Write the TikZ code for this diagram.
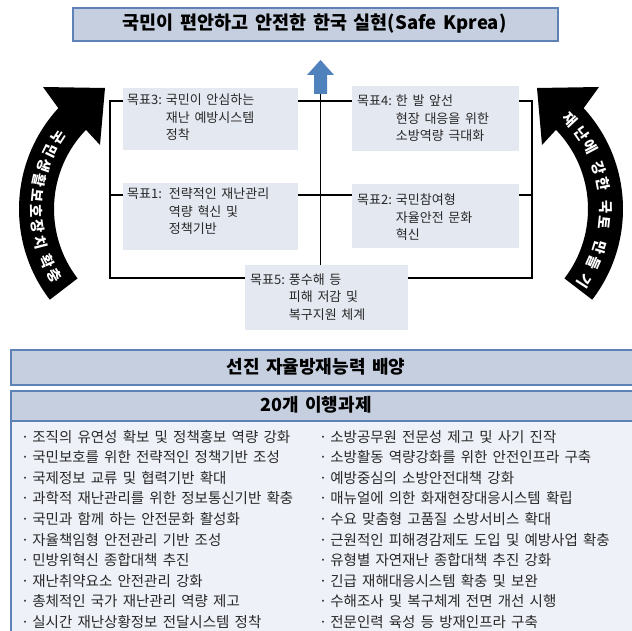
\documentclass[tikz,border=0pt]{standalone}
\usepackage{fontspec}
\setmainfont{Noto Sans CJK KR}[WordSpace=1.6]
\usetikzlibrary{calc}
\definecolor{tfill}{RGB}{198,207,224}
\definecolor{bborder}{RGB}{95,130,182}
\definecolor{ablue}{RGB}{79,129,189}
\definecolor{gfill}{RGB}{228,232,241}
\definecolor{bodyfill}{RGB}{238,241,247}
\definecolor{tgray}{RGB}{40,40,40}
\tikzset{
  goalbox/.style={fill=gfill, draw=none, inner sep=0, anchor=north west},
  goaltext/.style={inner sep=0, anchor=base west, text=tgray, font=\fontsize{13}{17.5}\selectfont},
  conn/.style={draw=black, line width=1.1pt},
  item/.style={inner sep=0, anchor=base west, text=tgray, font=\fontsize{14.5}{16}\selectfont},
  arctext/.style={text=white, inner sep=0, font=\bfseries\fontsize{14.5}{15}\selectfont},
  headtext/.style={text=black, inner sep=0, font=\bfseries\fontsize{18}{20}\selectfont},
  bandbox/.style={fill=tfill, draw=bborder, line width=2pt, inner sep=0, anchor=north west},
}
\begin{document}
\begin{tikzpicture}[x=1pt,y=1pt]
\useasboundingbox[fill=white] (0,0) rectangle (632,-631);

% title
\node[bandbox, line width=1.6pt, minimum width=485, minimum height=33] (title) at (72,-7) {};
\node[headtext, font=\bfseries\fontsize{18.5}{20}\selectfont] (titletext) at (314.5,-23.5) {국민이 편안하고 안전한 한국 실현(Safe Kprea)};

% up arrow
\fill[ablue] (314,-94) -- (327,-94) -- (327,-75) -- (334,-75) -- (320.5,-60) -- (307,-75) -- (314,-75) -- cycle;
\coordinate (arrowbase) at (320.5,-94);

% goal boxes
\node[goalbox, minimum width=175, minimum height=62] (g3) at (123,-88) {};
\node[goalbox, minimum width=175, minimum height=67] (g1) at (123,-183) {};
\node[goalbox, minimum width=167, minimum height=65] (g4) at (352,-86) {};
\node[goalbox, minimum width=167, minimum height=64] (g2) at (352,-184) {};
\node[goalbox, minimum width=163, minimum height=65] (g5) at (245,-265) {};

\node[goaltext] (t3) at (127,-105) {\begin{tabular}[t]{@{}l@{\hspace{4pt}}l@{}}목표3: & 국민이 안심하는\\ & 재난 예방시스템\\ & 정착\end{tabular}};
\node[goaltext] (t1) at (127,-199) {\begin{tabular}[t]{@{}l@{\hspace{7pt}}l@{}}목표1: & 전략적인 재난관리\\ & 역량 혁신 및\\ & 정책기반\end{tabular}};
\node[goaltext] (t4) at (357,-106) {\begin{tabular}[t]{@{}l@{\hspace{4pt}}l@{}}목표4: & 한 발 앞선\\ & 현장 대응을 위한\\ & 소방역량 극대화\end{tabular}};
\node[goaltext] (t2) at (357,-205) {\begin{tabular}[t]{@{}l@{\hspace{4pt}}l@{}}목표2: & 국민참여형\\ & 자율안전 문화\\ & 혁신\end{tabular}};
\node[goaltext] (t5) at (250,-284) {\begin{tabular}[t]{@{}l@{\hspace{4pt}}l@{}}목표5: & 풍수해 등\\ & 피해 저감 및\\ & 복구지원 체계\end{tabular}};

% connectors
\coordinate (L1) at (110,-101);
\coordinate (L2) at (110,-195);
\coordinate (L3) at (110,-278);
\coordinate (R1) at (532,-101);
\coordinate (R2) at (532,-195);
\coordinate (R3) at (532,-278);
\draw[conn] (g3.west |- L1) -- (L1) -- (L3) -- (g5.west |- L3);
\draw[conn] (L2) -- (g1.west |- L2);
\draw[conn] (g4.east |- R1) -- (R1) -- (R3) -- (g5.east |- R3);
\draw[conn] (R2) -- (g2.east |- R2);
\draw[conn] (g3.east |- L1) -- (g4.west |- L1);
\draw[conn] (g1.east |- L2) -- (g2.west |- L2);
\draw[conn] (arrowbase) -- (arrowbase |- g5.north);

% left curved arrow
\fill[black] (168,-209) ++(217.5:149) arc[start angle=217.5, end angle=137.4, radius=149]
  -- (43,-87) -- (105,-88) -- (100,-145) -- ($(168,-209)+(136:114)$)
  arc[start angle=136, end angle=217.5, radius=114] -- cycle;
\foreach \a/\c in {147/국,153.8/민,160.6/생,167.4/활,174.2/보,181/호,187.8/장,194.6/치,203.5/확,210.3/충}
  \node[arctext, rotate=\a+90] at ($(168,-209)+(\a:131.5)$) {\c};

% right curved arrow
\fill[black] (474,-209) ++(-37.5:149) arc[start angle=-37.5, end angle=42.6, radius=149]
  -- (599,-87) -- (537,-88) -- (542,-145) -- ($(474,-209)+(44:114)$)
  arc[start angle=44, end angle=-37.5, radius=114] -- cycle;
\foreach \a/\c in {43/재,35/난,28/에,18/강,11/한,1/국,-6/토,-17/만,-24/들,-33/기}
  \node[arctext, rotate=\a-90] at ($(474,-209)+(\a:131.5)$) {\c};

% bottom boxes
\node[bandbox, minimum width=640, minimum height=35] (b1) at (10,-349) {};
\node[headtext] (b1text) at (316,-366.5) {선진 자율방재능력 배양};

\node[bandbox, fill=bodyfill, minimum width=640, minimum height=260] (b2) at (10,-390) {};
\node[bandbox, minimum width=640, minimum height=30] (b2head) at (10,-390) {};
\node[headtext] (b2text) at (316,-405) {20개 이행과제};

\foreach \t [count=\i from 0] in {조직의 유연성 확보 및 정책홍보 역량 강화,
  국민보호를 위한 전략적인 정책기반 조성,
  국제정보 교류 및 협력기반 확대,
  과학적 재난관리를 위한 정보통신기반 확충,
  국민과 함께 하는 안전문화 활성화,
  자율책임형 안전관리 기반 조성,
  민방위혁신 종합대책 추진,
  재난취약요소 안전관리 강화,
  총체적인 국가 재난관리 역량 제고,
  실시간 재난상황정보 전달시스템 정착}
  \node[item] (li\i) at (21,-442-20.6*\i) {·\hspace{3pt}\t};

\foreach \t [count=\i from 0] in {소방공무원 전문성 제고 및 사기 진작,
  소방활동 역량강화를 위한 안전인프라 구축,
  예방중심의 소방안전대책 강화,
  매뉴얼에 의한 화재현장대응시스템 확립,
  수요 맞춤형 고품질 소방서비스 확대,
  근원적인 피해경감제도 도입 및 예방사업 확충,
  유형별 자연재난 종합대책 추진 강화,
  긴급 재해대응시스템 확충 및 보완,
  수해조사 및 복구체계 전면 개선 시행,
  전문인력 육성 등 방재인프라 구축}
  \node[item] (ri\i) at (319,-442-20.6*\i) {·\hspace{3pt}\t};
\end{tikzpicture}
\end{document}
